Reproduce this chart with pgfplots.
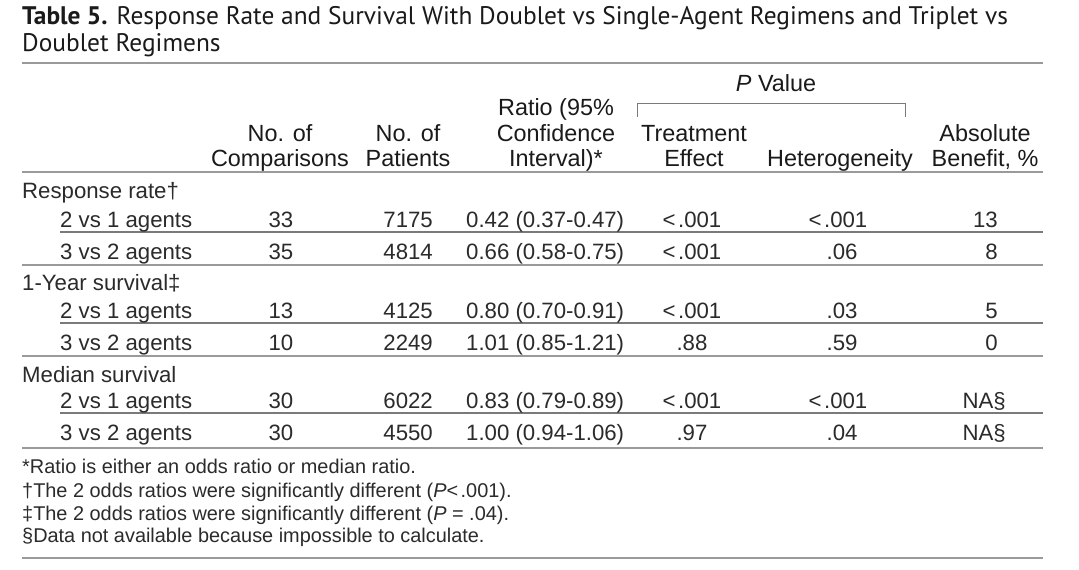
\documentclass[border=0pt]{standalone}
\usepackage{fontspec}
\setmainfont{Liberation Sans}
\newfontfamily\titlefont{PT Sans}
\usepackage{pgfplots}
\pgfplotsset{compat=1.18}
\definecolor{rulegray}{HTML}{9A9A9A}
\definecolor{subgray}{HTML}{7A7A7A}
\definecolor{txt}{HTML}{2B2B2B}
\definecolor{hdr}{HTML}{1A1A1A}
\newcommand{\bodyfont}{\fontsize{22.2}{26}\selectfont}
\newcommand{\hdrfont}{\fontsize{23.4}{27}\selectfont}
\newcommand{\fnfont}{\fontsize{19.9}{23}\selectfont}
\newcommand{\lt}{<\kern2.5pt}
\begin{document}
\begin{tikzpicture}
\begin{axis}[
  width=1079pt, height=570pt, scale only axis,
  xmin=0, xmax=1079, ymin=0, ymax=570, y dir=reverse,
  hide axis, clip=false,
  every node near coord/.append style={inner sep=0pt, font=\bodyfont, text=txt},
  point meta=explicit symbolic,
]
\fill[white] (axis cs:0,0) rectangle (axis cs:1079,570);
% title
\node[anchor=base west, inner sep=0pt, text=hdr] at (axis cs:22,24) {\titlefont\fontsize{25.4}{30}\selectfont\textbf{Table 5.} Response Rate and Survival With Doublet vs Single-Agent Regimens and Triplet vs};
\node[anchor=base west, inner sep=0pt, text=hdr] at (axis cs:22,51) {\titlefont\fontsize{25.4}{30}\selectfont Doublet Regimens};
% rules
\draw[rulegray, line width=2pt] (axis cs:22,63) -- (axis cs:1043,63);
\draw[rulegray, line width=2pt] (axis cs:22,172) -- (axis cs:1043,172);
\draw[subgray, line width=1.3pt] (axis cs:60,232) -- (axis cs:1043,232);
\draw[rulegray, line width=2pt] (axis cs:22,265) -- (axis cs:1043,265);
\draw[subgray, line width=1.3pt] (axis cs:60,323) -- (axis cs:1043,323);
\draw[rulegray, line width=2pt] (axis cs:22,356) -- (axis cs:1043,356);
\draw[subgray, line width=1.3pt] (axis cs:60,413) -- (axis cs:1043,413);
\draw[rulegray, line width=2pt] (axis cs:22,448) -- (axis cs:1043,448);
\draw[rulegray, line width=2pt] (axis cs:22,558) -- (axis cs:1043,558);
% bracket
\draw[subgray, line width=1pt] (axis cs:637,117) -- (axis cs:637,103) -- (axis cs:905,103) -- (axis cs:905,117);
% header
\begin{scope}[every node/.style={inner sep=0pt, anchor=base, text=hdr, font=\hdrfont}]
\node at (axis cs:776,91) {\textit{P} Value};
\node at (axis cs:556,115) {Ratio (95\%};
\node at (axis cs:280,141) {No. of};
\node at (axis cs:408,141) {No. of};
\node at (axis cs:556,141) {Confidence};
\node at (axis cs:694,141) {Treatment};
\node at (axis cs:985,141) {Absolute};
\node at (axis cs:280,166) {Comparisons};
\node at (axis cs:408,166) {Patients};
\node at (axis cs:556,166) {Interval)*};
\node at (axis cs:694,166) {Effect};
\node at (axis cs:840,166) {Heterogeneity};
\node at (axis cs:985,166) {Benefit, \%};
\end{scope}
% row labels
\addplot[draw=none, mark=none, nodes near coords,
  every node near coord/.append style={anchor=base west}]
  table[x=x, y=y, meta=t] {
x y t
22 198 {Response rate†}
60 227 {2 vs 1 agents}
60 259 {3 vs 2 agents}
22 290 {1-Year survival‡}
60 318 {2 vs 1 agents}
60 350 {3 vs 2 agents}
22 382 {Median survival}
60 408 {2 vs 1 agents}
60 440 {3 vs 2 agents}
};
% No. of comparisons
\addplot[draw=none, mark=none, nodes near coords,
  every node near coord/.append style={anchor=base}]
  table[x=x, y=y, meta=t] {
x y t
281 227 33
281 259 35
281 318 13
281 350 10
281 408 30
281 440 30
};
% No. of patients
\addplot[draw=none, mark=none, nodes near coords,
  every node near coord/.append style={anchor=base east}]
  table[x=x, y=y, meta=t] {
x y t
433 227 7175
433 259 4814
433 318 4125
433 350 2249
433 408 6022
433 440 4550
};
% Ratio (95% CI)
\addplot[draw=none, mark=none, nodes near coords,
  every node near coord/.append style={anchor=base west}]
  table[x=x, y=y, meta=t] {
x y t
466 227 {0.42 (0.37-0.47)}
466 259 {0.66 (0.58-0.75)}
466 318 {0.80 (0.70-0.91)}
466 350 {1.01 (0.85-1.21)}
466 408 {0.83 (0.79-0.89)}
466 440 {1.00 (0.94-1.06)}
};
% Treatment effect P
\addplot[draw=none, mark=none, nodes near coords,
  every node near coord/.append style={anchor=base}]
  table[x=x, y=y, meta=t] {
x y t
692 227 {\lt.001}
692 259 {\lt.001}
692 318 {\lt.001}
692 350 .88
692 408 {\lt.001}
692 440 .97
};
% Heterogeneity P
\addplot[draw=none, mark=none, nodes near coords,
  every node near coord/.append style={anchor=base}]
  table[x=x, y=y, meta=t] {
x y t
838 227 {\lt.001}
842 259 .06
842 318 .03
842 350 .59
838 408 {\lt.001}
842 440 .04
};
% Absolute benefit
\addplot[draw=none, mark=none, nodes near coords,
  every node near coord/.append style={anchor=base east}]
  table[x=x, y=y, meta=t] {
x y t
998 227 13
998 259 8
998 318 5
998 350 0
1006 408 NA§
1006 440 NA§
};
% footnotes
\begin{scope}[every node/.style={inner sep=0pt, anchor=base west, text=txt, font=\fnfont}]
\node at (axis cs:22,473) {*Ratio is either an odds ratio or median ratio.};
\node at (axis cs:22,497) {†The 2 odds ratios were significantly different (\textit{P}\lt.001).};
\node at (axis cs:22,520) {‡The 2 odds ratios were significantly different (\textit{P} = .04).};
\node at (axis cs:22,542) {§Data not available because impossible to calculate.};
\end{scope}
\end{axis}
\end{tikzpicture}
\end{document}
